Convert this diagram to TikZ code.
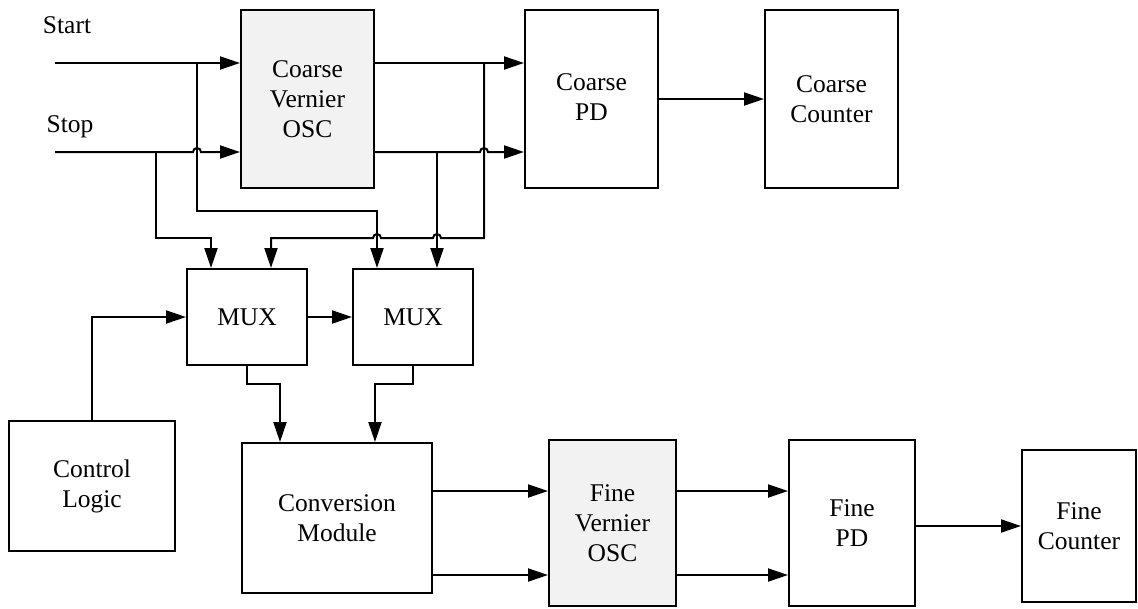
\documentclass[tikz,border=0pt]{standalone}
\usepackage{fontspec}
\setmainfont{Liberation Serif}
\usetikzlibrary{arrows.meta,calc}

\begin{document}
\begin{tikzpicture}[x=1pt,y=-1pt,>={Triangle[length=20pt,width=13pt]},
  font=\fontsize{25.5}{30}\selectfont,line width=2pt,
  blk/.style={draw,align=center,inner sep=0pt},
  osc/.style={blk,fill=gray!10},
  arr/.style={->}]
 \useasboundingbox (0,0) rectangle (1138,608);
 \node[osc,minimum width=133pt,minimum height=178pt] (cvo) at (307.5,99) {Coarse\\Vernier\\OSC};
 \node[blk,minimum width=133pt,minimum height=178pt] (cpd) at (591.5,99) {\raisebox{6pt}{\begin{tabular}{@{}c@{}}Coarse\\PD\end{tabular}}};
 \node[blk,minimum width=133pt,minimum height=178pt] (ccnt) at (831.5,99) {Coarse\\Counter};
 \node[blk,minimum width=120pt,minimum height=96pt] (mux1) at (247,317) {MUX};
 \node[blk,minimum width=120pt,minimum height=96pt] (mux2) at (413,317) {MUX};
 \node[blk,minimum width=166pt,minimum height=130pt] (ctrl) at (92,486) {Control\\Logic};
 \node[blk,minimum width=190pt,minimum height=150pt] (conv) at (337,518) {Conversion\\Module};
 \node[osc,minimum width=127pt,minimum height=166pt] (fvo) at (612.5,523) {Fine\\Vernier\\OSC};
 \node[blk,minimum width=126pt,minimum height=166pt] (fpd) at (852,523) {Fine\\PD};
 \node[blk,minimum width=114pt,minimum height=152pt] (fcnt) at (1079,526) {Fine\\Counter};
 \node (lstart) at (67,25) {Start};
 \node (lstop) at (70,127) {Stop};

 \coordinate (startin) at (55,63);
 \coordinate (stopin) at (55,152);
 \coordinate (sb1) at (197,63);
 \coordinate (sb2) at (156,152);
 \coordinate (ob1) at (484,63);
 \coordinate (rowa) at (0,211);
 \coordinate (rowb) at (0,238);
 \coordinate (rowc) at (0,384);
 \coordinate (fa) at (0,491);
 \coordinate (fb) at (0,575);
 \coordinate (m1a) at ($(mux1.north)+(-36,0)$);
 \coordinate (m1b) at ($(mux1.north)+(24,0)$);
 \coordinate (m2a) at ($(mux2.north)+(-36,0)$);
 \coordinate (m2b) at ($(mux2.north)+(24,0)$);
 \coordinate (ob2) at (m2b |- stopin);

 \draw[arr] (startin) -- (startin -| cvo.west);
 \draw[arr] (stopin) -- ($(stopin -| sb1)+(-4,0)$) arc[start angle=180,end angle=0,radius=4pt] -- (stopin -| cvo.west);
 \draw[arr] (sb1) |- (rowa -| m2a) -- (m2a);
 \draw[arr] (sb2) |- (rowb -| m1a) -- (m1a);
 \draw[arr] (cvo.east |- startin) -- (cpd.west |- startin);
 \draw[arr] (cvo.east |- stopin) -- ($(stopin -| ob1)+(-4,0)$) arc[start angle=180,end angle=0,radius=4pt] -- (cpd.west |- stopin);
 \draw[arr] (ob1) |- ($(rowb -| ob2)+(4,0)$) arc[start angle=0,end angle=180,radius=4pt]
   -- ($(rowb -| m2a)+(4,0)$) arc[start angle=0,end angle=180,radius=4pt] -- (rowb -| m1b) -- (m1b);
 \draw[arr] (ob2) -- (m2b);
 \draw[arr] (cpd) -- (ccnt);
 \draw[arr] (ctrl.north) |- (mux1.west);
 \draw[arr] (mux1) -- (mux2);
 \draw[arr] (mux1.south) -- (mux1.south |- rowc) -| ($(conv.north)+(-57,0)$);
 \draw[arr] (mux2.south) -- (mux2.south |- rowc) -| ($(conv.north)+(38,0)$);
 \draw[arr] (conv.east |- fa) -- (fvo.west |- fa);
 \draw[arr] (conv.east |- fb) -- (fvo.west |- fb);
 \draw[arr] (fvo.east |- fa) -- (fpd.west |- fa);
 \draw[arr] (fvo.east |- fb) -- (fpd.west |- fb);
 \draw[arr] (fpd.east |- fcnt) -- (fcnt.west);
\end{tikzpicture}
\end{document}
